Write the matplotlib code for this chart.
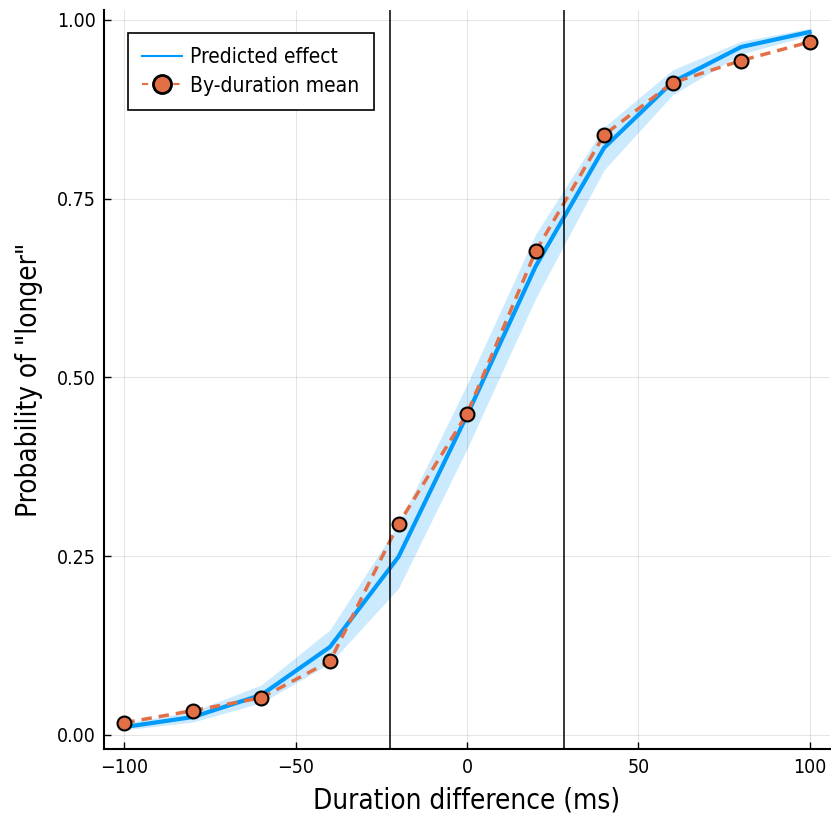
import matplotlib
matplotlib.use("Agg")
import matplotlib.pyplot as plt
from matplotlib.lines import Line2D

plt.rcParams['font.family'] = ['DejaVu Sans']
plt.rcParams['font.stretch'] = 'condensed'

durations = [-100, -80, -60, -40, -20, 0, 20, 40, 60, 80, 100]
predicted = [0.011, 0.025, 0.056, 0.123, 0.249, 0.447, 0.655, 0.821, 0.913, 0.962, 0.983]
pred_lo = [0.007, 0.018, 0.045, 0.100, 0.205, 0.400, 0.610, 0.790, 0.895, 0.952, 0.978]
pred_hi = [0.016, 0.033, 0.070, 0.147, 0.295, 0.490, 0.700, 0.850, 0.930, 0.970, 0.988]
observed = [0.017, 0.034, 0.052, 0.103, 0.295, 0.449, 0.676, 0.839, 0.912, 0.943, 0.969]
vlines = [-22.6, 28.2]

blue = '#009AFA'
orange = '#E26F46'

fig = plt.figure(figsize=(8.31, 8.17), dpi=100)
ax = fig.add_axes([0.125, 0.083, 0.874, 0.905])

ax.fill_between(durations, pred_lo, pred_hi, color=blue, alpha=0.2, linewidth=0)
ax.plot(durations, predicted, color=blue, linewidth=3)
ax.plot(durations, observed, color=orange, linewidth=2.5, linestyle=(0, (3, 2)),
        marker='o', markersize=10, markerfacecolor=orange, markeredgecolor='black',
        markeredgewidth=1.5)
for v in vlines:
    ax.axvline(v, color='black', linewidth=1.1)

ax.set_xlim(-106, 106)
ax.set_ylim(-0.02, 1.014)
ax.set_xticks([-100, -50, 0, 50, 100])
ax.set_yticks([0, 0.25, 0.5, 0.75, 1.0])
ax.set_yticklabels(['0.00', '0.25', '0.50', '0.75', '1.00'])
ax.grid(True, color='black', alpha=0.1, linewidth=0.8)
ax.tick_params(direction='in', length=5, width=1, labelsize=14, pad=6)
for s in ['top', 'right']:
    ax.spines[s].set_visible(False)
for s in ['left', 'bottom']:
    ax.spines[s].set_linewidth(1.5)

ax.set_xlabel('Duration difference (ms)', fontsize=20, labelpad=7)
ax.set_ylabel('Probability of "longer"', fontsize=20, labelpad=10)

# proxy handles so the legend looks like the GR one
handles = [
    Line2D([], [], color=blue, linewidth=1.5),
    Line2D([], [], color=orange, linewidth=1.5, linestyle=(0, (3, 2)),
           marker='o', markersize=13, markerfacecolor=orange,
           markeredgecolor='black', markeredgewidth=2),
]
labels = ['Predicted effect', 'By-duration mean']
leg = ax.legend(handles, labels, loc='upper left', bbox_to_anchor=(0.033, 0.969),
                fontsize=15, frameon=True, fancybox=False, edgecolor='black',
                handlelength=1.9, handletextpad=0.4, borderaxespad=0,
                borderpad=0.7, labelspacing=0.4, framealpha=1)
leg.get_frame().set_linewidth(1.2)

fig.savefig('out.png', dpi=100)
